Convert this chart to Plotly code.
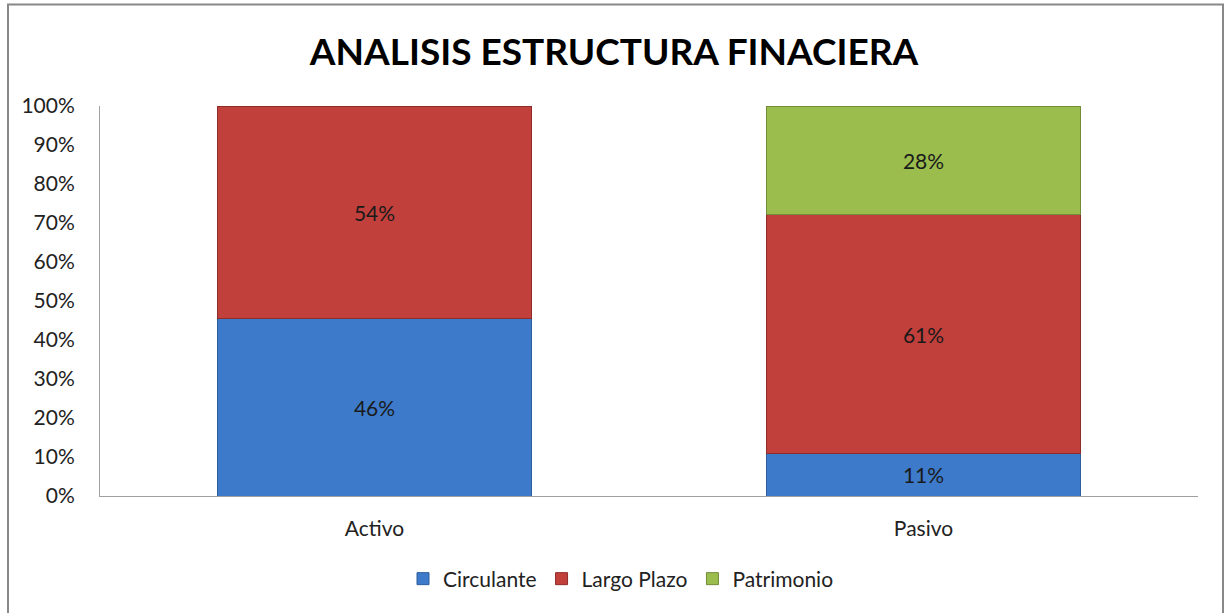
import plotly.graph_objects as go

categories = ["Activo", "Pasivo"]
series_names = ["Circulante", "Largo Plazo", "Patrimonio"]
circulante = [0.456, 0.108]
largo_plazo = [0.544, 0.613]
patrimonio = [None, 0.279]
colors = ["#3D7BCA", "#C2403C", "#9BBD4E"]
edge_colors = ["#2E5E9C", "#8E2C2A", "#728C38"]

W, H = 1225, 613
ml, mr, mt, mb = 100, 27, 106, 117
FONT = "Lato, Open Sans, sans-serif"

fig = go.Figure()
for name, vals, c, ec in zip(series_names, [circulante, largo_plazo, patrimonio], colors, edge_colors):
    fig.add_trace(go.Bar(
        x=categories, y=vals, name=name,
        marker=dict(color=c, line=dict(color=ec, width=1)),
        text=[(f"{v:.0%}" if v is not None else "") for v in vals],
        textposition="inside", insidetextanchor="middle",
        textfont=dict(family=FONT, size=21, color="#1a1a1a"),
        hoverinfo="skip",
    ))

pw = W - ml - mr
ph = H - mt - mb
fig.add_shape(type="rect", xref="paper", yref="paper",
              x0=(8 - ml) / pw, x1=(1223 - ml) / pw,
              y0=(H - mb - 640) / ph, y1=(H - mb - 4.5) / ph,
              line=dict(color="#888888", width=2), fillcolor="rgba(0,0,0,0)", layer="below")

fig.update_layout(
    width=W, height=H,
    barmode="stack", bargap=0.428,
    paper_bgcolor="white", plot_bgcolor="white",
    margin=dict(l=ml, r=mr, t=mt, b=mb),
    title=dict(text="<b>ANALISIS ESTRUCTURA FINACIERA</b>", x=(614 - ml) / pw, xref="paper",
               xanchor="center", y=1 - 52 / H, yanchor="middle",
               font=dict(family=FONT, size=37, color="#000000")),
    font=dict(family=FONT, size=21, color="#222222"),
    legend=dict(orientation="h", x=(621 - ml) / pw, xanchor="center",
                y=(H - mb - 579) / ph, yanchor="middle",
                font=dict(size=21), traceorder="normal", itemwidth=30),
    showlegend=True,
    xaxis=dict(showline=True, linecolor="#a0a0a0", linewidth=1, ticks="",
               tickfont=dict(size=21), showgrid=False, ticklabelstandoff=14),
    yaxis=dict(range=[0, 1], tickformat=".0%", dtick=0.1, showline=True,
               linecolor="#a0a0a0", linewidth=1, showgrid=False, ticks="",
               tickfont=dict(size=21), zeroline=False, ticklabelstandoff=20),
)

fig.write_html("out.html", config={"displayModeBar": False},
               post_script="document.body.style.margin='0';")
